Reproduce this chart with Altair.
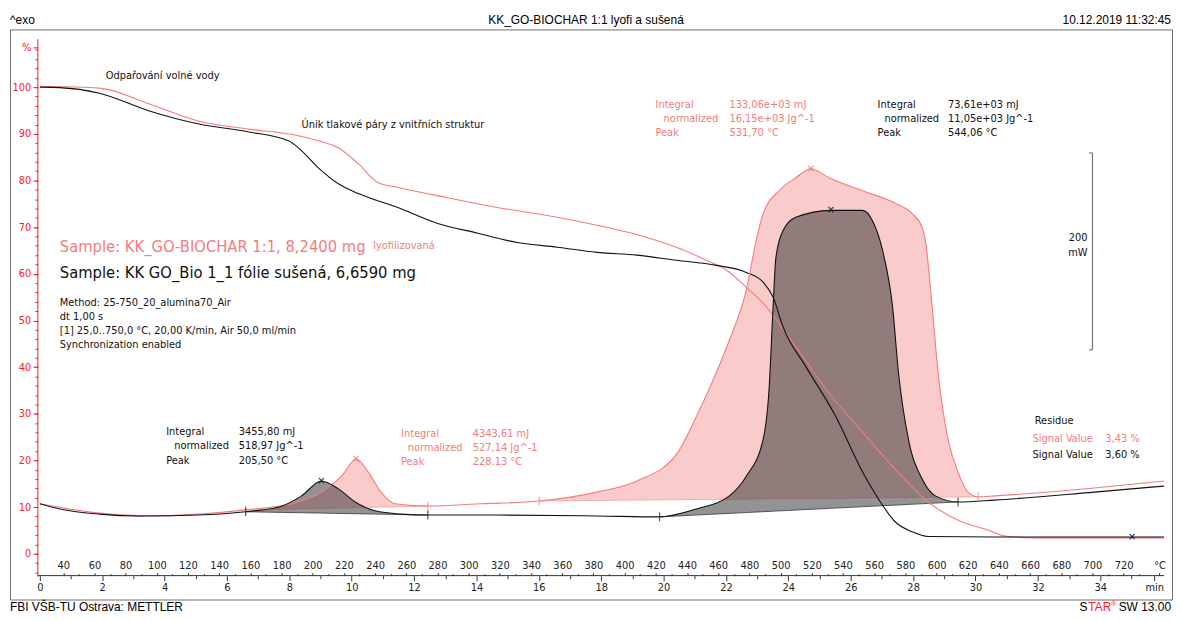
import altair as alt
import pandas as pd

# ---------------- data ----------------
# time axis in minutes; TGA in %; DSC drawn in the same display units (scale bar 200 mW)
tga_black_t = [0.00, 0.64, 1.91, 3.51, 5.10, 6.70, 7.97, 8.29, 8.93, 9.57, 10.21, 11.48, 12.76, 14.04,
               15.31, 16.59, 17.86, 19.14, 20.41, 21.69, 22.65, 23.19, 23.51, 23.83, 24.56, 25.52,
               26.38, 26.89, 27.43, 27.97, 28.48, 30.62, 36.04]
tga_black_p = [100.0, 99.9, 98.7, 94.9, 92.1, 90.4, 88.5, 87.0, 82.7, 79.3, 77.2, 74.2, 70.8, 68.7,
               66.7, 65.7, 64.6, 64.0, 62.9, 61.8, 60.3, 58.2, 55.0, 48.6, 40.1, 29.4,
               17.5, 11.7, 6.8, 4.7, 3.7, 3.6, 3.6]

tga_red_t = [0.00, 1.91, 3.51, 5.10, 6.70, 8.29, 8.93, 9.57, 10.21, 10.85, 11.48, 13.08, 14.67, 16.27,
             17.86, 19.46, 20.41, 21.37, 22.01, 22.65, 23.19, 24.24, 25.30, 26.38, 27.43, 28.48,
             29.57, 30.30, 30.94, 31.89, 36.04]
tga_red_p = [100.2, 99.8, 96.4, 92.7, 91.0, 89.6, 88.5, 87.0, 83.6, 79.5, 78.5, 76.3, 74.2, 72.5,
             70.4, 67.8, 65.7, 62.9, 60.8, 57.1, 53.7, 44.3, 34.5, 26.0, 18.1, 11.1,
             6.8, 5.3, 3.8, 3.4, 3.4]

dsc_black_t = [0.00, 0.64, 1.91, 3.19, 5.10, 6.60, 7.75, 8.39, 9.03, 9.57, 10.11, 10.75, 11.58, 12.44,
               14.67, 17.86, 19.87, 21.05, 22.11, 22.65, 23.19, 23.38, 23.51, 23.60, 23.83, 24.24,
               25.36, 26.38, 26.70, 27.02, 27.34, 27.53, 27.85, 28.29, 28.71, 29.44, 30.62, 33.81, 36.04]
dsc_black_v = [10.7, 9.6, 8.5, 8.1, 8.3, 9.0, 10.2, 12.4, 15.6, 13.9, 11.1, 9.2, 8.5, 8.3,
               8.3, 8.1, 7.9, 9.6, 12.4, 16.6, 24.5, 35.2, 52.9, 63.5, 69.3, 72.1,
               73.6, 73.6, 71.3, 65.0, 52.9, 38.8, 24.5, 16.0, 12.4, 11.1, 11.5, 13.2, 14.5]

dsc_red_t = [0.00, 1.91, 3.51, 5.10, 6.60, 8.29, 9.03, 9.67, 10.14, 10.53, 10.94, 11.39, 12.44, 14.13,
             16.01, 17.86, 19.14, 20.41, 21.05, 21.59, 22.11, 22.65, 22.97, 23.19, 23.70, 24.24,
             24.72, 25.30, 26.38, 27.43, 27.97, 28.29, 28.39, 28.61, 28.80, 29.12, 29.44, 29.76,
             30.08, 30.62, 33.81, 36.04]
dsc_red_v = [10.7, 8.7, 8.1, 8.5, 9.4, 11.1, 13.2, 16.6, 20.3, 17.5, 13.2, 10.7, 10.2, 10.7,
             11.3, 13.2, 15.6, 21.3, 29.4, 37.3, 45.8, 56.5, 67.2, 72.9, 77.8, 80.6,
             82.5, 80.6, 77.8, 75.1, 72.9, 69.9, 67.2, 52.9, 38.8, 24.5, 17.5, 13.2,
             12.2, 12.4, 14.1, 15.6]

# integration limits (t0, b0, t1, b1)
peaks_black = [(6.60, 9.0, 12.44, 8.3), (19.87, 7.9, 29.44, 11.1)]
peaks_red = [(6.60, 9.4, 12.44, 10.2), (16.01, 11.3, 30.08, 12.2)]

# peak / residue markers
mark_black_t = [9.03, 25.36, 35.02]
mark_black_p = [15.6, 73.6, 3.6]
mark_red_t = [10.14, 24.72]
mark_red_p = [20.3, 82.5]

# axis labels
time_ticks = list(range(0, 35, 2))
time_minor = list(range(1, 36, 2))
temp_ticks = list(range(40, 721, 20))
temp_minor = list(range(50, 731, 20))
pct_ticks = list(range(0, 101, 10))
pct_minor = list(range(-4, 109, 2))

RED = "#f47c7c"
AXRED = "#ff2020"
BLK = "#111111"
FONT = "DejaVu Sans Condensed, DejaVu Sans"
HFONT = "Liberation Sans Narrow, Arial Narrow, Liberation Sans"

# annotation texts (text, t, value, colour)
notes_small = [
    ("Odpařování volné vody", 2.11, 102.4, BLK),
    ("Únik tlakové páry z vnitřních struktur", 8.39, 91.9, BLK),
    ("Integral", 19.74, 96.2, RED), ("normalized", 20.00, 93.2, RED), ("Peak", 19.74, 90.2, RED),
    ("133,06e+03 mJ", 22.11, 96.2, RED), ("16,15e+03 Jg^-1", 22.11, 93.2, RED), ("531,70 °C", 22.11, 90.2, RED),
    ("Integral", 26.86, 96.2, BLK), ("normalized", 27.08, 93.2, BLK), ("Peak", 26.86, 90.2, BLK),
    ("73,61e+03 mJ", 29.12, 96.2, BLK), ("11,05e+03 Jg^-1", 29.12, 93.2, BLK), ("544,06 °C", 29.12, 90.2, BLK),
    ("lyofilizovaná", 10.69, 65.9, RED),
    ("Method: 25-750_20_alumina70_Air", 0.64, 53.7, BLK),
    ("dt 1,00 s", 0.64, 50.75, BLK),
    ("[1] 25,0..750,0 °C, 20,00 K/min, Air 50,0 ml/min", 0.64, 47.76, BLK),
    ("Synchronization enabled", 0.64, 44.78, BLK),
    ("Integral", 4.05, 26.0, BLK), ("normalized", 4.31, 23.0, BLK), ("Peak", 4.05, 19.8, BLK),
    ("3455,80 mJ", 6.38, 26.0, BLK), ("518,97 Jg^-1", 6.38, 23.0, BLK), ("205,50 °C", 6.38, 19.8, BLK),
    ("Integral", 11.58, 25.6, RED), ("normalized", 11.80, 22.6, RED), ("Peak", 11.58, 19.6, RED),
    ("4343,61 mJ", 13.88, 25.6, RED), ("527,14 Jg^-1", 13.88, 22.6, RED), ("228,13 °C", 13.88, 19.6, RED),
    ("Residue", 31.90, 28.4, BLK),
    ("Signal Value", 31.83, 24.5, RED), ("3,43 %", 34.16, 24.5, RED),
    ("Signal Value", 31.83, 21.1, BLK), ("3,60 %", 34.16, 21.1, BLK),
]
notes_big = [
    ("Sample: KK_GO-BIOCHAR 1:1, 8,2400 mg", 0.64, 65.7, RED),
    ("Sample: KK GO_Bio 1_1 fólie sušená, 6,6590 mg", 0.64, 60.1, BLK),
]
notes_right = [("200", 33.59, 67.6, BLK), ("mW", 33.59, 64.4, BLK)]
scale_bar = {"t": 33.75, "lo": 43.7, "hi": 85.9, "hook": 33.64}

# ---------------- scales ----------------
X0, X1 = -0.957, 36.30
Y0, Y1 = -9.81, 112.37
xs = alt.Scale(domain=[X0, X1], nice=False, zero=False)
ys = alt.Scale(domain=[Y0, Y1], nice=False, zero=False)
W, H = 1168, 573


def XE(field="t", axis=None):
    return alt.X(f"{field}:Q", scale=xs, axis=axis)


def YE(field="p", axis=None):
    return alt.Y(f"{field}:Q", scale=ys, axis=axis)


def line(ts, vs, color, width=1.1):
    df = pd.DataFrame({"t": ts, "p": vs})
    return alt.Chart(df).mark_line(color=color, strokeWidth=width, interpolate="monotone").encode(
        x=XE(), y=YE())


def peak_area(ts, vs, peak, color, opacity):
    t0, b0, t1, b1 = peak
    rows = [{"t": t, "p": v, "b": b0 + (b1 - b0) * (t - t0) / (t1 - t0)}
            for t, v in zip(ts, vs) if t0 - 1e-9 <= t <= t1 + 1e-9]
    df = pd.DataFrame(rows)
    area = alt.Chart(df).mark_area(color=color, opacity=opacity, interpolate="monotone").encode(
        x=XE(), y=YE(), y2="b:Q")
    base = alt.Chart(df).mark_line(color=color, strokeWidth=0.8).encode(x=XE(), y=YE("b"))
    return [area, base]


def limits(peaks, color):
    rows = []
    for t0, b0, t1, b1 in peaks:
        rows += [{"t": t0, "p": b0}, {"t": t1, "p": b1}]
    return alt.Chart(pd.DataFrame(rows)).mark_tick(orient="vertical", size=9, thickness=1.2,
                                                   color=color).encode(x=XE(), y=YE())


def texts(rows, size, align="left", font=FONT):
    df = pd.DataFrame(rows, columns=["text", "t", "p", "color"])
    return alt.Chart(df).mark_text(align=align, baseline="middle", font=font, fontSize=size).encode(
        x=XE(), y=YE(), text="text:N", color=alt.Color("color:N", scale=None))


def markers(ts, vs, color):
    df = pd.DataFrame({"t": ts, "p": vs})
    return alt.Chart(df).mark_text(text="×", fontSize=11, font=FONT, color=color,
                                   baseline="middle").encode(x=XE(), y=YE())


dummy = pd.DataFrame({"t": [0.0], "p": [0.0]})


def axis_layer(xaxis=None, yaxis=None):
    return alt.Chart(dummy).mark_point(opacity=0).encode(x=XE(axis=xaxis), y=YE(axis=yaxis))


def px_text(txt, x, y, align="left", size=12, color="#000000", font="Liberation Sans", baseline="middle"):
    return alt.Chart(dummy).mark_text(text=txt, align=align, baseline=baseline, fontSize=size,
                                      font=font, color=color).encode(
        x=alt.value(x), y=alt.value(y))


common_ax = dict(grid=False, domain=False, title=None, labelOverlap=False, labelFlush=False,
                 labelBound=False, labelFont=FONT, labelFontSize=11)

time_axis = alt.Axis(orient="bottom", offset=-24, values=time_ticks + [35.73], format=".0f",
                     labelExpr="datum.value > 35 ? 'min' : datum.label", tickSize=5, tickColor="#333",
                     labelColor="#222", labelPadding=1, **common_ax)
time_minor_axis = alt.Axis(orient="bottom", offset=-24, values=time_minor, labels=False, tickSize=3,
                           tickColor="#333", **common_ax)
temp_axis = alt.Axis(orient="top", offset=-549, values=[(T - 25) / 20 for T in temp_ticks] + [35.9],
                     labelExpr="datum.value > 35.5 ? '°C' : format(datum.value * 20 + 25, 'd')",
                     tickSize=3, tickColor="#333", labelColor="#222", labelPadding=2, **common_ax)
temp_minor_axis = alt.Axis(orient="top", offset=-549, values=[(T - 25) / 20 for T in temp_minor],
                           labels=False, tickSize=2, tickColor="#333", **common_ax)
pct_axis = alt.Axis(orient="left", offset=-28, values=pct_ticks + [108.5],
                    labelExpr="datum.value > 105 ? '%' : datum.label", tickSize=5, tickColor=AXRED,
                    labelColor=AXRED, labelPadding=2, **common_ax)
pct_minor_axis = alt.Axis(orient="left", offset=-28, values=pct_minor, labels=False, tickSize=3,
                          tickColor=AXRED, **common_ax)

# axis lines
y_line = alt.Chart(dummy).mark_rule(color=AXRED, strokeWidth=1).encode(
    x=alt.X(datum=-0.064, scale=xs, axis=None),
    y=alt.Y(datum=-4.9, scale=ys, axis=None), y2=alt.Y2(datum=110.3))
x_line = alt.Chart(dummy).mark_rule(color="#333", strokeWidth=1).encode(
    x=alt.X(datum=-0.064, scale=xs, axis=None), x2=alt.X2(datum=36.05),
    y=alt.Y(datum=-4.69, scale=ys, axis=None))

sb = pd.DataFrame([scale_bar])
bar_v = alt.Chart(sb).mark_rule(color="#777", strokeWidth=1.2).encode(x=XE(), y=YE("lo"), y2="hi:Q")
bar_h1 = alt.Chart(sb).mark_rule(color="#777", strokeWidth=1.2).encode(x=XE("hook"), x2="t:Q", y=YE("lo"))
bar_h2 = alt.Chart(sb).mark_rule(color="#777", strokeWidth=1.2).encode(x=XE("hook"), x2="t:Q", y=YE("hi"))

layers = [
    axis_layer(xaxis=time_axis, yaxis=pct_axis),
    axis_layer(xaxis=time_minor_axis, yaxis=pct_minor_axis),
    axis_layer(xaxis=temp_axis),
    axis_layer(xaxis=temp_minor_axis),
    y_line, x_line,
]
for pk in peaks_red:
    layers += peak_area(dsc_red_t, dsc_red_v, pk, "#f6a0a0", 0.55)
for pk in peaks_black:
    layers += peak_area(dsc_black_t, dsc_black_v, pk, "#3a3a3a", 0.55)
layers += [
    line(tga_red_t, tga_red_p, RED),
    line(tga_black_t, tga_black_p, BLK),
    line(dsc_red_t, dsc_red_v, RED),
    line(dsc_black_t, dsc_black_v, BLK),
    limits(peaks_red, RED), limits(peaks_black, BLK),
    markers(mark_red_t, mark_red_p, RED), markers(mark_black_t, mark_black_p, BLK),
    bar_v, bar_h1, bar_h2,
    texts(notes_small, 11),
    texts(notes_big, 16.5),
    texts(notes_right, 11, align="right"),
    # page header / footer
    px_text("^exo", 0, -9, size=12),
    px_text("KK_GO-BIOCHAR 1:1 lyofi a sušená", 579, -9, align="center", size=12, font=HFONT),
    px_text("10.12.2019 11:32:45", W - 1, -9, align="right", size=12, font=HFONT),
    px_text("FBI VŠB-TU Ostrava: METTLER", 0, 585, size=12, baseline="alphabetic"),
    px_text("SW 13.00", W - 1, 585, align="right", size=12, baseline="alphabetic"),
    px_text("®", W - 56, 580, align="right", size=7, color=AXRED, baseline="alphabetic"),
    px_text("TAR", W - 61, 585, align="right", size=12, color=AXRED, baseline="alphabetic"),
    px_text("S", W - 85, 585, align="right", size=12, baseline="alphabetic"),
]

chart = alt.layer(*layers).resolve_axis(x="independent", y="independent").properties(
    width=W, height=H,
    padding={"left": 2, "top": 20, "right": 2, "bottom": 12},
    autosize=alt.AutoSizeParams(type="none"),
    background="white",
).configure_view(stroke="#6e6e6e", strokeWidth=1)

chart.save("out.html", embed_options={"renderer": "svg", "actions": False})
